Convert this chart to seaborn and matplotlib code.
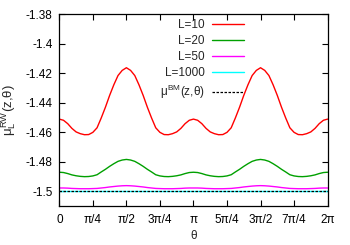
import numpy as np
import pandas as pd
import matplotlib
matplotlib.use("Agg")
import matplotlib.pyplot as plt
import seaborn as sns

# ---- data ----
theta_fine = np.linspace(0, 2 * np.pi, 65)
theta_coarse = np.linspace(0, 2 * np.pi, 9)

mu_L10 = [
    -1.4511, -1.4519, -1.4542, -1.4574, -1.4598, -1.4610, -1.4617, -1.4616, -1.4601,
    -1.4570, -1.4503, -1.4430, -1.4350, -1.4278, -1.4215, -1.4180, -1.4162,
    -1.4180, -1.4215, -1.4278, -1.4350, -1.4430, -1.4503, -1.4570, -1.4601,
    -1.4616, -1.4617, -1.4610, -1.4598, -1.4574, -1.4542, -1.4519, -1.4511,
    -1.4519, -1.4542, -1.4574, -1.4598, -1.4610, -1.4617, -1.4616, -1.4601,
    -1.4570, -1.4503, -1.4430, -1.4350, -1.4278, -1.4215, -1.4180, -1.4162,
    -1.4180, -1.4215, -1.4278, -1.4350, -1.4430, -1.4503, -1.4570, -1.4601,
    -1.4616, -1.4617, -1.4610, -1.4598, -1.4574, -1.4542, -1.4519, -1.4511]

mu_L20 = [
    -1.4872, -1.4874, -1.4881, -1.4890, -1.4896, -1.4900, -1.4902, -1.4901, -1.4897,
    -1.4889, -1.4870, -1.4852, -1.4832, -1.4814, -1.4798, -1.4789, -1.4785,
    -1.4789, -1.4798, -1.4814, -1.4832, -1.4852, -1.4870, -1.4889, -1.4897,
    -1.4901, -1.4902, -1.4900, -1.4896, -1.4890, -1.4881, -1.4874, -1.4872,
    -1.4874, -1.4881, -1.4890, -1.4896, -1.4900, -1.4902, -1.4901, -1.4897,
    -1.4889, -1.4870, -1.4852, -1.4832, -1.4814, -1.4798, -1.4789, -1.4785,
    -1.4789, -1.4798, -1.4814, -1.4832, -1.4852, -1.4870, -1.4889, -1.4897,
    -1.4901, -1.4902, -1.4900, -1.4896, -1.4890, -1.4881, -1.4874, -1.4872]

mu_L50 = [
    -1.4979, -1.4979, -1.4980, -1.4982, -1.4983, -1.4984, -1.4984, -1.4984, -1.4983,
    -1.4982, -1.4979, -1.4976, -1.4972, -1.4969, -1.4966, -1.4964, -1.4963,
    -1.4964, -1.4966, -1.4969, -1.4972, -1.4976, -1.4979, -1.4982, -1.4983,
    -1.4984, -1.4984, -1.4984, -1.4983, -1.4982, -1.4980, -1.4979, -1.4979,
    -1.4979, -1.4980, -1.4982, -1.4983, -1.4984, -1.4984, -1.4984, -1.4983,
    -1.4982, -1.4979, -1.4976, -1.4972, -1.4969, -1.4966, -1.4964, -1.4963,
    -1.4964, -1.4966, -1.4969, -1.4972, -1.4976, -1.4979, -1.4982, -1.4983,
    -1.4984, -1.4984, -1.4984, -1.4983, -1.4982, -1.4980, -1.4979, -1.4979]

mu_L1000 = [-1.4999, -1.4999, -1.4999, -1.4999, -1.4999, -1.4999, -1.4999, -1.4999, -1.4999]
mu_BM = [-1.5, -1.5, -1.5, -1.5, -1.5, -1.5, -1.5, -1.5, -1.5]

xtick_labels = ["0", "π/4", "π/2", "3π/4", "π", "5π/4", "3π/2", "7π/4", "2π"]
ytick_values = [-1.5, -1.48, -1.46, -1.44, -1.42, -1.4, -1.38]
ytick_labels = ["-1.5", "-1.48", "-1.46", "-1.44", "-1.42", "-1.4", "-1.38"]

# ---- style ----
sns.set_style("ticks")
plt.rcParams["font.family"] = ["Liberation Sans", "DejaVu Sans"]
plt.rcParams["mathtext.fontset"] = "custom"
plt.rcParams["mathtext.rm"] = "Liberation Sans"
plt.rcParams["mathtext.it"] = "Liberation Sans"
plt.rcParams["mathtext.bf"] = "Liberation Sans:bold"
FS = 8.5

fig = plt.figure(figsize=(3.5, 2.45), dpi=100)
ax = fig.add_axes([0.1695, 0.160, 0.7665, 0.781])

sns.lineplot(x=theta_fine, y=mu_L10, ax=ax, color="#ff0000", lw=1.0, label="L=10")
sns.lineplot(x=theta_fine, y=mu_L20, ax=ax, color="#00a000", lw=1.0, label="L=20")
sns.lineplot(x=theta_fine, y=mu_L50, ax=ax, color="#ff00ff", lw=1.0, label="L=50")
sns.lineplot(x=theta_coarse, y=mu_L1000, ax=ax, color="#00ffff", lw=1.0, label="L=1000")
sns.lineplot(x=theta_coarse, y=mu_BM, ax=ax, color="black", lw=0.9,
             linestyle=(0, (2.0, 1.2)), label=r"$\mu^{BM}(z{,}\theta)$")

ax.set_xlim(0, 2 * np.pi)
ax.set_ylim(-1.51, -1.38)
ax.set_xticks(np.linspace(0, 2 * np.pi, 9))
ax.set_xticklabels(xtick_labels)
ax.set_yticks(ytick_values)
ax.set_yticklabels(ytick_labels)
ax.tick_params(direction="in", length=4, width=0.8, top=True, right=True,
               labelsize=FS, colors="black")
ax.tick_params(axis="y", pad=5)
ax.tick_params(axis="x", pad=6)
for s in ax.spines.values():
    s.set_linewidth(0.9)
    s.set_color("black")

ax.set_xlabel("θ", fontsize=FS, labelpad=3)
ax.set_ylabel(r"$\mu_L^{RW}(z{,}\theta)$", fontsize=9.5, labelpad=5)

leg = ax.legend(loc="upper right", bbox_to_anchor=(0.688, 0.975), frameon=False,
                markerfirst=False, fontsize=FS, handlelength=2.7,
                handletextpad=0.6, labelspacing=0.33, borderpad=0.0,
                borderaxespad=0.0)

fig.savefig("out.png", dpi=100)
